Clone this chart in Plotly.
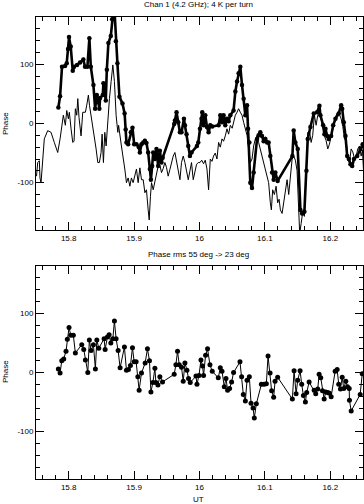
import plotly.graph_objects as go

# ---- data (UT hours, phase in degrees) ----
raw_ut = [15.7842, 15.7868, 15.7898, 15.7944, 15.7970, 15.7990, 15.8005, 15.8031, 15.8062, 15.8082,
          15.8128, 15.8174, 15.8224, 15.8250, 15.8286, 15.8316, 15.8338, 15.8378, 15.8404, 15.8430,
          15.8454, 15.8469, 15.8480, 15.8521, 15.8531, 15.8546, 15.8567, 15.8583, 15.8607, 15.8644,
          15.8664, 15.8684, 15.8702, 15.8721, 15.8745, 15.8776, 15.8822, 15.8855, 15.8871, 15.8883,
          15.8909, 15.8950, 15.8975, 15.9001, 15.9036, 15.9073, 15.9088, 15.9113, 15.9139, 15.9165,
          15.9189, 15.9215, 15.9241, 15.9257, 15.9276, 15.9292, 15.9318, 15.9342, 15.9368, 15.9394,
          15.9419, 15.9437, 15.9613, 15.9624, 15.9649, 15.9675, 15.9701, 15.9725, 15.9762, 15.9777,
          15.9802, 15.9828, 15.9854, 15.9878, 15.9961, 15.9981, 16.0007, 16.0031, 16.0042, 16.0062,
          16.0088, 16.0114, 16.0139, 16.0165, 16.0195, 16.0292, 16.0318, 16.0344, 16.0368, 16.0394,
          16.0420, 16.0445, 16.0471, 16.0521, 16.0548, 16.0574, 16.0598, 16.0624, 16.0650, 16.0675,
          16.0701, 16.0727, 16.0742, 16.0762, 16.0777, 16.0803, 16.0828, 16.0880, 16.0904, 16.0930,
          16.0956, 16.0981, 16.1007, 16.1033, 16.1057, 16.1083, 16.1110, 16.1134, 16.1160, 16.1195,
          16.1420, 16.1440, 16.1466, 16.1502, 16.1543, 16.1569, 16.1604, 16.1635, 16.1655, 16.1696,
          16.1747, 16.1799, 16.1834, 16.1849, 16.1891, 16.1910, 16.1926, 16.1952, 16.1976, 16.2013,
          16.2044, 16.2079, 16.2129, 16.2166, 16.2182, 16.2206, 16.2232, 16.2258, 16.2283, 16.2309,
          16.2335, 16.2362, 16.2411, 16.2462, 16.2495]
raw_phase = [27, 46, 96, 97, 102, 126, 146, 130, 89, 96,
             99, 103, 108, 96, 96, 144, 96, 65, 25, 48,
             36, 25, 43, 48, 68, 56, 39, 91, 136, 148,
             176, 192, 188, 139, 102, 45, 34, 17, -10, -32,
             -35, -15, -7, -35, -35, -40, -49, -35, -32, -29,
             -33, -49, -77, -95, -72, -49, -60, -43, -72, -46,
             -66, -58, -1, 5, 19, 2, -15, -15, 8, -3,
             -18, -38, -55, -49, -38, -32, -9, 8, 19, -3,
             14, -6, -15, -3, -5, -3, 14, 2, 14, -3,
             8, 4, 14, 22, 54, 71, 85, 96, 65, 42,
             14, 31, -9, -32, -100, -109, -83, -26, -20, -15,
             -21, -30, -26, -32, -32, -55, -83, -95, -83, -97,
             -55, -12, -32, -43, -146, -152, -149, -80, -26, -6,
             17, 19, 30, 14, -3, -18, -9, -21, -26, -21,
             -3, 8, 17, 31, 25, 2, -21, -55, -60, -69,
             -72, -60, -55, -43, -35]

ref_ut = [15.7508, 15.7526, 15.7551, 15.7561, 15.7577, 15.7603, 15.7627, 15.7679, 15.7730, 15.7780,
          15.7832, 15.7868, 15.7898, 15.7918, 15.7949, 15.7970, 15.7995, 15.8010, 15.8036, 15.8062,
          15.8082, 15.8102, 15.8123, 15.8139, 15.8158, 15.8189, 15.8215, 15.8255, 15.8276, 15.8301,
          15.8319, 15.8342, 15.8368, 15.8393, 15.8419, 15.8445, 15.8469, 15.8495, 15.8511, 15.8531,
          15.8552, 15.8572, 15.8598, 15.8623, 15.8649, 15.8675, 15.8699, 15.8725, 15.8751, 15.8763,
          15.8806, 15.8832, 15.8858, 15.8883, 15.8909, 15.8935, 15.8959, 15.8985, 15.9011, 15.9036,
          15.9062, 15.9088, 15.9113, 15.9139, 15.9165, 15.9189, 15.9215, 15.9231, 15.9250, 15.9266,
          15.9292, 15.9318, 15.9342, 15.9368, 15.9394, 15.9419, 15.9445, 15.9471, 15.9495, 15.9521,
          15.9547, 15.9572, 15.9598, 15.9624, 15.9649, 15.9675, 15.9701, 15.9725, 15.9751, 15.9777,
          15.9802, 15.9828, 15.9854, 15.9878, 15.9904, 15.9930, 15.9955, 15.9981, 16.0007, 16.0034,
          16.0062, 16.0088, 16.0114, 16.0139, 16.0165, 16.0191, 16.0215, 16.0241, 16.0267, 16.0292,
          16.0318, 16.0344, 16.0368, 16.0394, 16.0420, 16.0445, 16.0471, 16.0500, 16.0521, 16.0548,
          16.0574, 16.0598, 16.0624, 16.0650, 16.0675, 16.0701, 16.0727, 16.0751, 16.0777, 16.0803,
          16.0828, 16.0854, 16.0880, 16.0904, 16.0930, 16.0956, 16.0981, 16.1007, 16.1033, 16.1057,
          16.1083, 16.1099, 16.1119, 16.1145, 16.1171, 16.1195, 16.1217, 16.1237, 16.1263, 16.1287,
          16.1313, 16.1339, 16.1364, 16.1390, 16.1416, 16.1440, 16.1466, 16.1492, 16.1517, 16.1532,
          16.1554, 16.1578, 16.1604, 16.1635, 16.1655, 16.1681, 16.1707, 16.1731, 16.1757, 16.1783,
          16.1808, 16.1834, 16.1860, 16.1884, 16.1910, 16.1936, 16.1961, 16.1987, 16.2013, 16.2038,
          16.2064, 16.2090, 16.2114, 16.2140, 16.2166, 16.2191, 16.2217, 16.2243, 16.2267, 16.2293,
          16.2319, 16.2344, 16.2370, 16.2396, 16.2420, 16.2446, 16.2472, 16.2492, 16.2512]
ref_phase = [-89, -66, -63, -92, -100, -60, -26, -12, -15, -32,
             -49, -26, 2, 14, -3, 22, 8, 19, -9, -32,
             -30, 25, 14, 42, 10, -21, 19, 19, 31, 48,
             30, 14, -3, -21, -43, -66, -66, -49, -18, -66,
             -15, -38, 14, 42, 71, 99, 71, 14, -15, -3,
             -38, -55, -77, -100, -92, -106, -92, -100, -88, -77,
             -100, -75, -95, -95, -117, -112, -146, -163, -123, -100,
             -112, -100, -89, -72, -70, -83, -76, -66, -74, -89,
             -78, -66, -55, -49, -66, -83, -95, -66, -55, -66,
             -80, -95, -80, -66, -95, -83, -69, -66, -66, -62,
             -68, -62, -77, -112, -60, -64, -55, -50, -60, -32,
             -40, -26, -30, -21, -9, -18, -3, -8, 2, 14,
             19, 25, 19, 14, 2, -9, -20, -43, -66, -60,
             -38, -26, -21, -32, -43, -55, -66, -77, -89, -100,
             -134, -146, -112, -120, -106, -134, -128, -146, -152, -134,
             -117, -95, -120, -83, -60, -55, -62, -80, -134, -186,
             -169, -150, -157, -55, -15, -12, -32, -20, 14, -3,
             14, 19, 8, -5, -21, -29, -43, -35, -21, -10,
             2, 14, 19, 15, 8, -5, -26, -30, -55, -66,
             -43, -48, -60, -55, -43, -38, -55, -45, -89]

corr_ut = [15.7842, 15.7868, 15.7894, 15.7924, 15.7959, 15.7979, 15.8005, 15.8031, 15.8071, 15.8102,
           15.8200, 15.8230, 15.8255, 15.8292, 15.8316, 15.8342, 15.8378, 15.8408, 15.8430, 15.8460,
           15.8541, 15.8557, 15.8592, 15.8618, 15.8644, 15.8675, 15.8699, 15.8725, 15.8756, 15.8786,
           15.8852, 15.8883, 15.8914, 15.8944, 15.8975, 15.9001, 15.9031, 15.9057, 15.9077, 15.9113,
           15.9169, 15.9204, 15.9235, 15.9257, 15.9287, 15.9318, 15.9333, 15.9364, 15.9394, 15.9434,
           15.9613, 15.9639, 15.9664, 15.9690, 15.9725, 15.9751, 15.9777, 15.9808, 15.9832, 15.9858,
           15.9946, 15.9961, 15.9992, 16.0022, 16.0047, 16.0062, 16.0093, 16.0123, 16.0160, 16.0195,
           16.0287, 16.0318, 16.0344, 16.0379, 16.0405, 16.0430, 16.0460, 16.0491, 16.0521, 16.0619,
           16.0644, 16.0670, 16.0701, 16.0727, 16.0762, 16.0788, 16.0819, 16.0838, 16.0869, 16.0946,
           16.0987, 16.1022, 16.1048, 16.1079, 16.1103, 16.1134, 16.1155, 16.1195, 16.1420, 16.1446,
           16.1477, 16.1502, 16.1538, 16.1563, 16.1589, 16.1619, 16.1639, 16.1676, 16.1753, 16.1777,
           16.1808, 16.1829, 16.1854, 16.1880, 16.1906, 16.1930, 16.1961, 16.1987, 16.2013, 16.2074,
           16.2105, 16.2129, 16.2155, 16.2182, 16.2206, 16.2237, 16.2263, 16.2289, 16.2293, 16.2319,
           16.2457, 16.2488]
corr_phase = [6, -1, 20, 23, 36, 56, 76, 63, 63, 33,
              47, 39, 21, 0, 55, 37, 47, 6, 55, 41,
              57, 39, 60, 64, 50, 57, 87, 57, 37, 8,
              43, 4, 5, 12, 42, 18, 18, -7, -30, -1,
              16, 40, 20, -33, -17, 7, -17, -21, -7, -16,
              -3, 13, 36, 13, 9, -15, 16, 4, -10, -17,
              -6, -20, -5, 21, 11, -5, 29, 40, 13, 2,
              -9, 8, 2, -24, -10, -30, -27, -16, 0, 18,
              -7, -37, -48, -13, -7, -52, -60, -77, -53, -20,
              -20, -19, 28, -1, -31, -42, -15, -8, -45, 3,
              -36, -13, 3, -20, -39, -50, -34, -16, -30, -36,
              -28, -3, -9, -31, -45, -33, -34, -35, -41, 2,
              5, -20, -28, -8, -27, -15, -24, -27, -47, -65,
              -37, -2]

x_tick_vals = [15.8, 15.9, 16.0, 16.1, 16.2]
x_tick_text = ["15.8", "15.9", "16", "16.1", "16.2"]
y_tick_vals = [-100, 0, 100]
y_tick_text = ["-100", "0", "100"]

title_top = "Chan 1 (4.2 GHz); 4 K per turn"
title_mid = "Phase rms 55 deg -> 23 deg"
x_title = "UT"
y_title = "Phase"

FONT = "Liberation Sans, Arial, Helvetica, sans-serif"
W, H = 364, 504

fig = go.Figure()
fig.add_trace(go.Scatter(x=ref_ut, y=ref_phase, mode="lines",
                         line=dict(color="black", width=1), xaxis="x", yaxis="y",
                         showlegend=False, hoverinfo="skip"))
fig.add_trace(go.Scatter(x=raw_ut, y=raw_phase, mode="lines+markers",
                         line=dict(color="black", width=2.6),
                         marker=dict(color="black", size=4.5, symbol="circle"),
                         xaxis="x", yaxis="y", showlegend=False, hoverinfo="skip"))
fig.add_trace(go.Scatter(x=corr_ut, y=corr_phase, mode="lines+markers",
                         line=dict(color="black", width=1),
                         marker=dict(color="black", size=5, symbol="circle"),
                         xaxis="x2", yaxis="y2", showlegend=False, hoverinfo="skip"))

xdom = [36 / W, 363 / W]
top_dom = [1 - 230 / H, 1 - 17 / H]
bot_dom = [1 - 479 / H, 1 - 266 / H]

def xax(anchor):
    return dict(domain=xdom, range=[15.75, 16.25], anchor=anchor,
                tickmode="array", tickvals=x_tick_vals, ticktext=x_tick_text,
                ticks="inside", ticklen=8, tickwidth=1, tickcolor="black",
                minor=dict(tick0=15.8, dtick=0.02, ticks="inside", ticklen=4,
                           tickwidth=1, tickcolor="black", showgrid=False),
                showline=True, linecolor="black", linewidth=1, mirror="allticks",
                showgrid=False, zeroline=False, automargin=False,
                tickfont=dict(family=FONT, size=8, color="black"))

def yax(anchor, dom):
    return dict(domain=dom, range=[-180, 180], anchor=anchor,
                tickmode="array", tickvals=y_tick_vals, ticktext=y_tick_text,
                ticks="inside", ticklen=8, tickwidth=1, tickcolor="black",
                minor=dict(tick0=0, dtick=20, ticks="inside", ticklen=4,
                           tickwidth=1, tickcolor="black", showgrid=False),
                showline=True, linecolor="black", linewidth=1, mirror="allticks",
                showgrid=False, zeroline=False, automargin=False,
                tickfont=dict(family=FONT, size=8, color="black"))

fig.update_layout(
    width=W, height=H,
    margin=dict(l=0, r=0, t=0, b=0),
    paper_bgcolor="white", plot_bgcolor="white",
    xaxis=xax("y"), yaxis=yax("x", top_dom),
    xaxis2=xax("y2"), yaxis2=yax("x2", bot_dom),
    font=dict(family=FONT, size=8, color="black"),
    hovermode=False,
)

def label(text, xpx, ypx, angle=0):
    fig.add_annotation(text=text, x=xpx / W, y=1 - ypx / H, xref="paper", yref="paper",
                       showarrow=False, textangle=angle, xanchor="center", yanchor="middle",
                       font=dict(family=FONT, size=8, color="black"))

label(title_top, 199, 5)
label(title_mid, 199, 254)
label(x_title, 199, 499)
label(y_title, 5, 124, -90)
label(y_title, 5, 372, -90)

fig.write_html("out.html", config={"displayModeBar": False, "staticPlot": True},
               post_script="document.body.style.margin='0px';document.body.style.overflow='hidden';")
